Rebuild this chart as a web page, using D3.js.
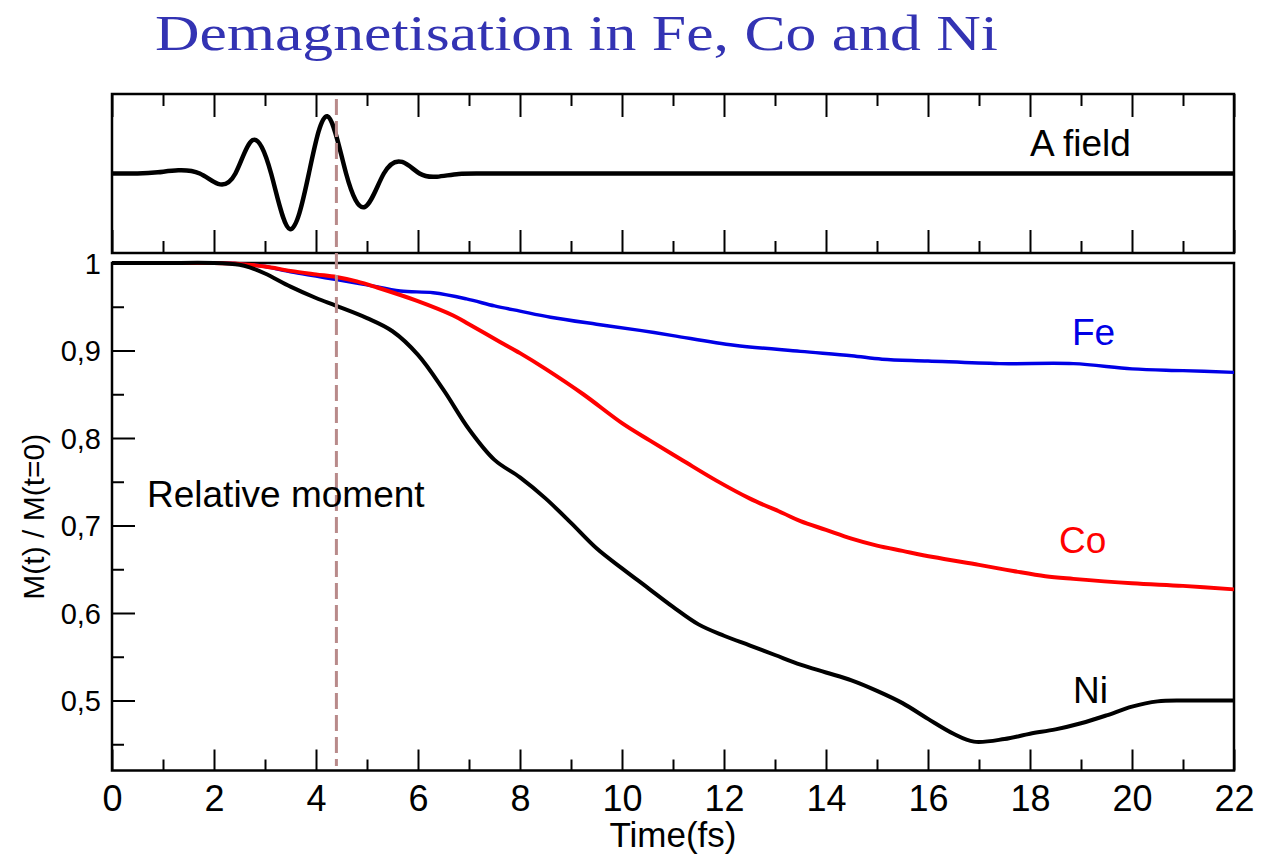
<!DOCTYPE html>
<html>
<head>
<meta charset="utf-8">
<script src="https://cdn.jsdelivr.net/npm/d3@7/dist/d3.min.js"></script>
<style>
  body { margin: 0; background: #fff; }
  text { font-family: "Liberation Sans", Arial, sans-serif; }
</style>
</head>
<body>
<div id="chart"></div>
<script>
// time axis
const majorTimes = [0, 2, 4, 6, 8, 10, 12, 14, 16, 18, 20, 22];
const minorTimes = [1, 3, 5, 7, 9, 11, 13, 15, 17, 19, 21];
const momentTicks = [0.5, 0.6, 0.7, 0.8, 0.9, 1.0];
const momentMinor = [0.45, 0.55, 0.65, 0.75, 0.85, 0.95];
const pulseTime = 4.4;

// A field (arbitrary units), [t, value]
const aField = [
  [0, 0], [0.5, 0], [0.9, 0.015], [1.3, 0.04], [1.72, 0.0], [2.08, -0.13], [2.42, 0],
  [2.76, 0.42], [3.12, 0], [3.49, -0.70], [3.86, 0], [4.22, 0.72], [4.59, 0],
  [4.96, -0.42], [5.33, 0], [5.69, 0.145], [6.03, 0], [6.37, -0.04], [6.8, -0.005],
  [7.4, 0], [9, 0], [12, 0], [16, 0], [22, 0]
];

// relative moment M(t)/M(t=0), [t, value]
const fe = [
  [0, 1], [1, 1], [2, 1], [2.5, 0.999], [3.0, 0.996], [3.5, 0.99], [4.0, 0.985], [4.4, 0.981],
  [5.0, 0.975], [5.65, 0.968], [6.3, 0.966], [6.95, 0.959], [7.5, 0.951], [8.0, 0.945],
  [8.6, 0.938], [9.5, 0.93], [10.35, 0.923], [11.0, 0.917], [12.2, 0.906], [13.5, 0.899],
  [14.5, 0.894], [15.1, 0.89], [16.0, 0.888], [17.4, 0.885], [18.85, 0.885], [20.0, 0.879],
  [21.0, 0.877], [22.0, 0.875]
];
const co = [
  [0, 1], [1, 1], [2, 1], [2.5, 0.999], [3.0, 0.996], [3.5, 0.991], [4.0, 0.987], [4.4, 0.984],
  [4.8, 0.979], [5.2, 0.972], [5.97, 0.957], [6.69, 0.94], [7.0, 0.93], [7.6, 0.91],
  [8.0, 0.897], [8.5, 0.879], [9.24, 0.85], [10.0, 0.817], [10.55, 0.797], [11.2, 0.774],
  [11.86, 0.751], [12.5, 0.731], [13.16, 0.714], [13.5, 0.705], [14.0, 0.695], [14.5, 0.685],
  [15.0, 0.677], [15.5, 0.671], [16.1, 0.664], [17.0, 0.655], [17.67, 0.648], [18.3, 0.642],
  [18.85, 0.639], [20.0, 0.634], [21.0, 0.631], [22.0, 0.627]
];
const ni = [
  [0, 1], [1, 1], [2, 1], [2.5, 0.998], [2.7, 0.995], [3.0, 0.988], [3.5, 0.973], [4.0, 0.96],
  [4.4, 0.951], [5.0, 0.937], [5.5, 0.922], [6.0, 0.895], [6.5, 0.855], [7.0, 0.81], [7.5, 0.775],
  [8.0, 0.755], [8.5, 0.731], [9.0, 0.703], [9.5, 0.674], [10.0, 0.651], [10.5, 0.629],
  [11.0, 0.607], [11.5, 0.587], [12.0, 0.574], [12.5, 0.563], [13.0, 0.552], [13.5, 0.541],
  [14.0, 0.532], [14.5, 0.523], [15.0, 0.511], [15.5, 0.497], [16.0, 0.479], [16.5, 0.462],
  [16.9, 0.453], [17.5, 0.456], [18.0, 0.462], [18.5, 0.467], [19.0, 0.474], [19.5, 0.483],
  [20.0, 0.493], [20.5, 0.499], [21.0, 0.5], [21.5, 0.5], [22.0, 0.5]
];

const series = [
  {name: 'Fe', data: fe, color: '#0000e6', width: 3.5, label: [1072, 345]},
  {name: 'Co', data: co, color: '#ff0000', width: 4, label: [1059, 553]},
  {name: 'Ni', data: ni, color: '#000000', width: 4, label: [1073, 703]}
];

const width = 1266, height = 859;
const left = 112, right = 1234;
const top1 = 94, bottom1 = 253;
const top2 = 263, bottom2 = 770.5;

const svg = d3.select('#chart').append('svg').attr('width', width).attr('height', height);

const x = d3.scaleLinear().domain([0, 22]).range([left, right]);
const yA = d3.scaleLinear().domain([-1, 1]).range([bottom1, top1]);
const y = d3.scaleLinear().domain([0.42, 1]).range([bottom2, top2]);

// title
svg.append('text')
  .attr('x', 155).attr('y', 50)
  .attr('textLength', 843).attr('lengthAdjust', 'spacingAndGlyphs')
  .style('font-family', '"Liberation Serif", "DejaVu Serif", serif')
  .style('font-size', '50px')
  .style('fill', '#3333b3')
  .text('Demagnetisation in Fe, Co and Ni');

function noLabels(g) {
  g.select('.domain').remove();
  g.selectAll('text').remove();
  g.selectAll('line').attr('stroke', '#000').attr('stroke-width', 2);
}

// top panel ticks
svg.append('g').attr('transform', `translate(0,${top1})`)
  .call(d3.axisTop(x).tickValues(majorTimes).tickSize(-23)).call(noLabels);
svg.append('g').attr('transform', `translate(0,${top1})`)
  .call(d3.axisTop(x).tickValues(minorTimes).tickSize(-12)).call(noLabels);
svg.append('g').attr('transform', `translate(0,${bottom1})`)
  .call(d3.axisBottom(x).tickValues(majorTimes).tickSize(-23)).call(noLabels);
svg.append('g').attr('transform', `translate(0,${bottom1})`)
  .call(d3.axisBottom(x).tickValues(minorTimes).tickSize(-12)).call(noLabels);

// bottom panel x axis
const xAxis = svg.append('g').attr('transform', `translate(0,${bottom2})`)
  .call(d3.axisBottom(x).tickValues(majorTimes).tickSize(-21).tickFormat(d3.format('d')));
xAxis.select('.domain').remove();
xAxis.selectAll('line').attr('stroke', '#000').attr('stroke-width', 2);
xAxis.selectAll('text').attr('y', 40).attr('dy', null)
  .style('font-size', '36px').style('fill', '#000');
svg.append('g').attr('transform', `translate(0,${bottom2})`)
  .call(d3.axisBottom(x).tickValues(minorTimes).tickSize(-11)).call(noLabels);

// bottom panel y axis
const yAxis = svg.append('g').attr('transform', `translate(${left},0)`)
  .call(d3.axisLeft(y).tickValues(momentTicks).tickSize(-23)
    .tickFormat(d => d === 1 ? '1' : d.toFixed(1).replace('.', ',')));
yAxis.select('.domain').remove();
yAxis.selectAll('line').attr('stroke', '#000').attr('stroke-width', 2);
yAxis.selectAll('text').attr('x', -11).attr('dy', '0.36em')
  .style('font-size', '29px').style('fill', '#000');
svg.append('g').attr('transform', `translate(${left},0)`)
  .call(d3.axisLeft(y).tickValues(momentMinor).tickSize(-12)).call(noLabels);

// frames
svg.append('rect').attr('x', left).attr('y', top1)
  .attr('width', right - left).attr('height', bottom1 - top1)
  .attr('fill', 'none').attr('stroke', '#000').attr('stroke-width', 2.5);
svg.append('rect').attr('x', left).attr('y', top2)
  .attr('width', right - left).attr('height', bottom2 - top2)
  .attr('fill', 'none').attr('stroke', '#000').attr('stroke-width', 2.5);

// A field curve
const lineA = d3.line().x(d => x(d[0])).y(d => yA(d[1])).curve(d3.curveNatural);
svg.append('path').datum(aField).attr('d', lineA)
  .attr('fill', 'none').attr('stroke', '#000').attr('stroke-width', 4.5)
  .attr('stroke-linejoin', 'round');

// moment curves
const lineM = d3.line().x(d => x(d[0])).y(d => y(d[1])).curve(d3.curveCatmullRom.alpha(0.5));
series.forEach(s => {
  svg.append('path').datum(s.data).attr('d', lineM)
    .attr('fill', 'none').attr('stroke', s.color).attr('stroke-width', s.width)
    .attr('stroke-linejoin', 'round');
  svg.append('text').attr('x', s.label[0]).attr('y', s.label[1])
    .style('font-size', '37px').style('fill', s.color).text(s.name);
});

// pulse marker
svg.append('line')
  .attr('x1', x(pulseTime)).attr('x2', x(pulseTime))
  .attr('y1', 99).attr('y2', 766)
  .attr('stroke', '#b88a8a').attr('stroke-width', 3)
  .attr('stroke-dasharray', '16,6');

// annotations
svg.append('text').attr('x', 1030).attr('y', 156)
  .style('font-size', '37px').style('fill', '#000').text('A field');
svg.append('text').attr('x', 147).attr('y', 507)
  .style('font-size', '37px').style('fill', '#000').text('Relative moment');

// axis titles
svg.append('text').attr('x', (left + right) / 2).attr('y', 847)
  .attr('text-anchor', 'middle')
  .style('font-size', '35px').style('fill', '#000').text('Time(fs)');
svg.append('text')
  .attr('transform', `translate(44,${(top2 + bottom2) / 2}) rotate(-90)`)
  .attr('text-anchor', 'middle')
  .style('font-size', '30px').style('fill', '#000').text('M(t) / M(t=0)');
</script>
</body>
</html>
